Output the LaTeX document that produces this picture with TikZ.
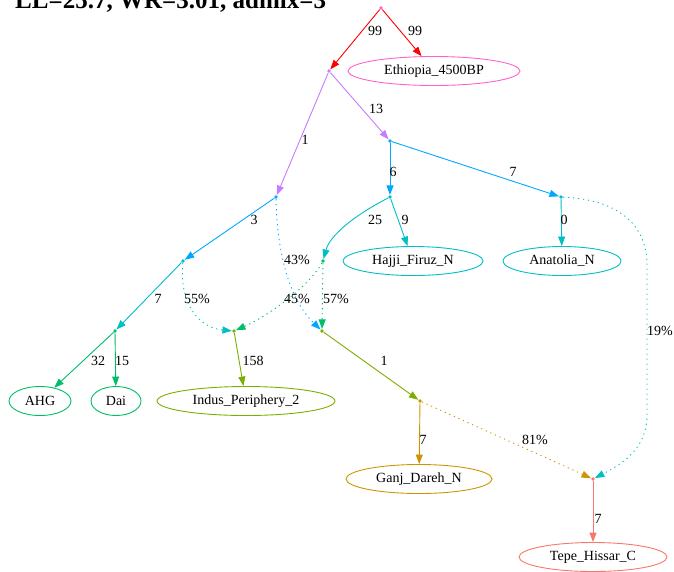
\documentclass[tikz,border=0pt]{standalone}
\usepackage{fontspec}
\setmainfont{Liberation Serif}
\usetikzlibrary{arrows.meta,shapes.geometric}

% palette
\definecolor{cRoot}{HTML}{FF61CC}
\definecolor{cRed}{HTML}{FF0000}
\definecolor{cPur}{HTML}{C77CFF}
\definecolor{cBlu}{HTML}{00A9FF}
\definecolor{cCya}{HTML}{00BFC4}
\definecolor{cGrn}{HTML}{00BE67}
\definecolor{cOli}{HTML}{7CAE00}
\definecolor{cOra}{HTML}{CD9600}
\definecolor{cSal}{HTML}{F8766D}

\begin{document}
\begin{tikzpicture}[x=1pt,y=-1pt,
  font=\fontsize{14}{16}\selectfont,
  dotnode/.style={circle,fill=#1,draw=none,inner sep=0pt,minimum size=3.8pt},
  leaf/.style={ellipse,draw=#1,line width=0.9pt,inner sep=0pt,minimum height=29pt},
  edge/.style={draw=#1,line width=0.9pt,-{Triangle[length=9.5pt,width=7pt]},#1},
  admix/.style={edge=#1,dash pattern=on 1.2pt off 3.8pt},
  lbl/.style={inner sep=0pt}]
\useasboundingbox (0,0) rectangle (674,571);
\clip (0,0) rectangle (674,571);

% title
\node[anchor=base west,inner sep=0pt,font=\bfseries\fontsize{25}{25}\selectfont] (title) at (15,8) {LL=25.7, WR=3.01, admix=3};

% internal points
\node[dotnode=cRoot] (R) at (381,8) {};
\node[dotnode=cPur]  (A) at (329,71) {};
\node[dotnode=cBlu]  (B) at (390,141) {};
\node[dotnode=cBlu]  (C) at (276,197) {};
\node[dotnode=cCya]  (D) at (390,197) {};
\node[dotnode=cCya]  (E) at (561,197) {};
\node[dotnode=cCya]  (F) at (183,261) {};
\node[dotnode=cGrn]  (G) at (323,261) {};
\node[dotnode=cGrn]  (H) at (115,331) {};
\node[dotnode=cOli]  (I) at (234,331) {};
\node[dotnode=cOli]  (J) at (322,331) {};
\node[dotnode=cOra]  (K) at (420,401) {};
\node[dotnode=cSal]  (L) at (593,479) {};

% populations
\node[leaf=cRoot,minimum width=172pt] (eth)   at (434,71)  {Ethiopia\_4500BP};
\node[leaf=cCya,minimum width=140pt]  (hajji) at (413,261) {Hajji\_Firuz\_N};
\node[leaf=cCya,minimum width=118pt]  (anat)  at (562,261) {Anatolia\_N};
\node[leaf=cGrn,minimum width=62pt]   (ahg)   at (40,401)  {AHG};
\node[leaf=cGrn,minimum width=50pt]   (dai)   at (116,401) {Dai};
\node[leaf=cOli,minimum width=178pt]  (indus) at (246,401) {Indus\_Periphery\_2};
\node[leaf=cOra,minimum width=146pt]  (ganj)  at (419,479) {Ganj\_Dareh\_N};
\node[leaf=cSal,minimum width=148pt]  (tepe)  at (593,557) {Tepe\_Hissar\_C};

% tree edges
\draw[edge=cRed] (R) -- (A);
\draw[edge=cRed] (R) -- (eth);
\draw[edge=cPur] (A) -- (B);
\draw[edge=cPur] (A) -- (C);
\draw[edge=cBlu] (B) -- (D);
\draw[edge=cBlu] (B) -- (E);
\draw[edge=cBlu] (C) -- (F);
\draw[edge=cCya] (D) .. controls (355,215) and (330,235) .. (G);
\draw[edge=cCya] (D) -- (hajji);
\draw[edge=cCya] (E) -- (anat);
\draw[edge=cCya] (F) -- (H);
\draw[edge=cGrn] (H) -- (ahg);
\draw[edge=cGrn] (H) -- (dai);
\draw[edge=cOli] (I) -- (indus);
\draw[edge=cOli] (J) -- (K);
\draw[edge=cOra] (K) -- (ganj);
\draw[edge=cSal] (L) -- (tepe);

% admixture edges
\draw[admix=cBlu] (C) .. controls (277,255) and (290,300) .. (J);
\draw[admix=cCya] (F) .. controls (179,305) and (200,328) .. (I);
\draw[admix=cGrn] (G) .. controls (310,285) and (270,315) .. (I);
\draw[admix=cGrn] (G) -- (J);
\draw[admix=cOra] (K) -- (L);
\draw[admix=cCya] (E) .. controls (625,200) and (647,230) .. (647,265)
  -- (647,415) .. controls (647,450) and (620,465) .. (L);

% edge labels
\node[lbl] (l1)  at (375,31)  {99};
\node[lbl] (l2)  at (415,31)  {99};
\node[lbl] (l3)  at (376,109) {13};
\node[lbl] (l4)  at (305,140) {1};
\node[lbl] (l5)  at (393,172) {6};
\node[lbl] (l6)  at (513,172) {7};
\node[lbl] (l7)  at (254,220) {3};
\node[lbl] (l8)  at (375,220) {25};
\node[lbl] (l9)  at (405,220) {9};
\node[lbl] (l10) at (564,220) {0};
\node[lbl] (l11) at (297,260) {43\%};
\node[lbl] (l12) at (158,299) {7};
\node[lbl] (l13) at (197,299) {55\%};
\node[lbl] (l14) at (297,299) {45\%};
\node[lbl] (l15) at (336,299) {57\%};
\node[lbl] (l16) at (660,331) {19\%};
\node[lbl] (l17) at (98,361)  {32};
\node[lbl] (l18) at (122,361) {15};
\node[lbl] (l19) at (253,361) {158};
\node[lbl] (l20) at (384,361) {1};
\node[lbl] (l21) at (423,440) {7};
\node[lbl] (l22) at (535,440) {81\%};
\node[lbl] (l23) at (598,519) {7};
\end{tikzpicture}
\end{document}
